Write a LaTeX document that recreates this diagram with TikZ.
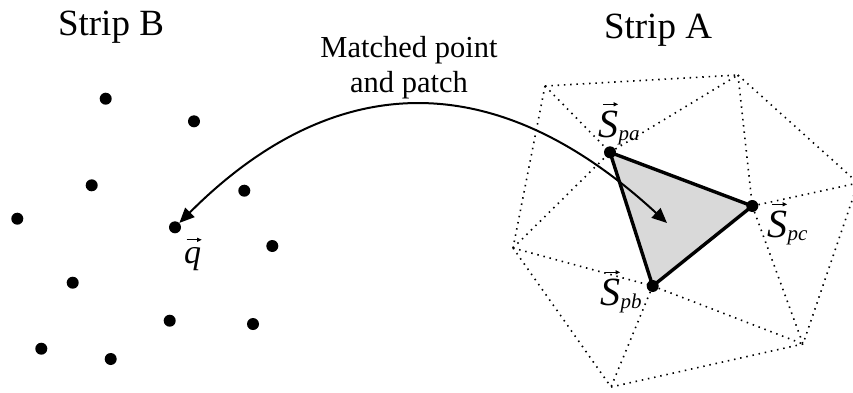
\documentclass[tikz,border=0pt]{standalone}
\usepackage{fontspec}
\setmainfont{Liberation Serif}
\usetikzlibrary{arrows.meta}
\definecolor{patchgray}{RGB}{217,217,217}
\tikzset{
  sample/.style={circle,fill=black,inner sep=0pt,minimum size=12pt},
  meshedge/.style={line width=1.6pt,dash pattern=on 1.5pt off 4.8pt},
  patchedge/.style={line width=3.4pt,line join=round},
  match/.style={line width=2pt,{Triangle[length=15pt,width=13pt]}-{Triangle[length=15pt,width=13pt]}},
  striplabel/.style={anchor=base,inner sep=0pt,font=\fontsize{37}{42}\selectfont},
  notelabel/.style={anchor=base,inner sep=0pt,align=center,font=\fontsize{30.5}{35}\selectfont},
  vecsym/.style={anchor=base west,inner sep=0pt,font=\fontsize{40}{44}\selectfont\itshape},
  vecsub/.style={anchor=base west,inner sep=0pt,font=\fontsize{21}{24}\selectfont\itshape},
  qsym/.style={anchor=base west,inner sep=0pt,font=\fontsize{34}{38}\selectfont\itshape},
  vecarrow/.style={line width=1pt,-{Triangle[length=4.5pt,width=4pt]}},
}
\begin{document}
\begin{tikzpicture}[x=1pt,y=-1pt]
\useasboundingbox (0,0) rectangle (853,392);
\clip (0,0) rectangle (853,392);

% titles
\node[striplabel] (tB) at (111,35) {Strip B};
\node[striplabel] (tA) at (658,38) {Strip A};
\node[notelabel] (note) at (409,92) {Matched point\\and patch};

% sample points of strip B
\node[sample] (b1) at (105.7,98.7) {};
\node[sample] (b2) at (194,121.3) {};
\node[sample] (b3) at (91.7,185.3) {};
\node[sample] (b4) at (244.3,190.7) {};
\node[sample] (b5) at (17.3,218.7) {};
\node[sample] (q) at (175,227.3) {};
\node[sample] (b6) at (272.3,246) {};
\node[sample] (b7) at (72.7,282.7) {};
\node[sample] (b8) at (169.7,320.7) {};
\node[sample] (b9) at (253,324) {};
\node[sample] (b10) at (41.3,348.7) {};
\node[sample] (b11) at (110.7,359) {};

% query point label
\node[qsym] (qlab) at (184,263) {q};
\draw[vecarrow] ([xshift=-6pt,yshift=7pt]qlab.north) -- ([xshift=9pt,yshift=7pt]qlab.north);

% triangulated surface of strip A
\coordinate (TL) at (545,86);
\coordinate (TR) at (738,75);
\coordinate (R) at (858,183);
\coordinate (BR) at (803,344);
\coordinate (Bo) at (611,387);
\coordinate (L) at (513,248);
\coordinate (pa) at (610,152.3);
\coordinate (pb) at (652.7,286);
\coordinate (pc) at (752.3,206);

\draw[meshedge] (TL) -- (TR);
\draw[meshedge] (TL) -- (pa);
\draw[meshedge] (TL) -- (L);
\draw[meshedge] (pa) -- (TR);
\draw[meshedge] (TR) -- (pc);
\draw[meshedge] (TR) -- (R);
\draw[meshedge] (pc) -- (R);
\draw[meshedge] (R) -- (BR);
\draw[meshedge] (pc) -- (BR);
\draw[meshedge] (pb) -- (BR);
\draw[meshedge] (L) -- (pa);
\draw[meshedge] (L) -- (pb);
\draw[meshedge] (L) -- (Bo);
\draw[meshedge] (pb) -- (Bo);
\draw[meshedge] (Bo) -- (BR);

% matched patch
\fill[patchgray] (pa) -- (pc) -- (pb) -- cycle;

% link between the query point and the patch
\coordinate (tip) at (667,223);
\draw[match] (q) .. controls (319.4,82.6) and (480.5,51) .. (tip);

\draw[patchedge] (pa) -- (pc) -- (pb) -- cycle;
\node[sample] (Spa) at (pa) {};
\node[sample] (Spb) at (pb) {};
\node[sample] (Spc) at (pc) {};

% vertex labels
\node[vecsym] (Sa) at (598,137) {S};
\node[vecsub] (sa) at ([xshift=0pt,yshift=-3pt]Sa.base east) {pa};
\draw[vecarrow] ([xshift=-5pt,yshift=6pt]Sa.north) -- ([xshift=10pt,yshift=6pt]Sa.north);

\node[vecsym] (Sb) at (600,305) {S};
\node[vecsub] (sb) at ([xshift=0pt,yshift=-3pt]Sb.base east) {pb};
\draw[vecarrow] ([xshift=-5pt,yshift=6pt]Sb.north) -- ([xshift=10pt,yshift=6pt]Sb.north);

\node[vecsym] (Sc) at (767,237) {S};
\node[vecsub] (sc) at ([xshift=0pt,yshift=-3pt]Sc.base east) {pc};
\draw[vecarrow] ([xshift=-5pt,yshift=6pt]Sc.north) -- ([xshift=10pt,yshift=6pt]Sc.north);
\end{tikzpicture}
\end{document}
